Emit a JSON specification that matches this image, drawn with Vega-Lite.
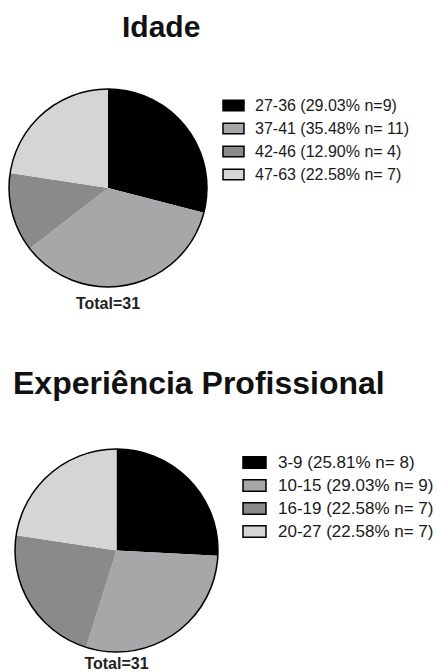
{
  "$schema": "https://vega.github.io/schema/vega-lite/v6.json",
  "background": "white",
  "padding": {"left": 6, "top": 13, "right": 0, "bottom": 0},
  "autosize": {"type": "pad"},
  "config": {
    "view": {"stroke": null},
    "legend": {
      "title": null,
      "labelFont": "Liberation Sans",
      "labelColor": "#1a1a1a",
      "symbolType": "M-1,-0.5H1V0.5H-1Z",
      "symbolStrokeColor": "black",
      "symbolStrokeWidth": 1.5,
      "symbolOpacity": 1
    }
  },
  "datasets": {
    "idade": [
      {"faixa": "27-36", "label": "27-36 (29.03% n=9)", "n": 9, "ordem": 1},
      {"faixa": "37-41", "label": "37-41 (35.48% n= 11)", "n": 11, "ordem": 2},
      {"faixa": "42-46", "label": "42-46 (12.90% n= 4)", "n": 4, "ordem": 3},
      {"faixa": "47-63", "label": "47-63 (22.58% n= 7)", "n": 7, "ordem": 4}
    ],
    "experiencia": [
      {"faixa": "3-9", "label": "3-9 (25.81% n= 8)", "n": 8, "ordem": 1},
      {"faixa": "10-15", "label": "10-15 (29.03% n= 9)", "n": 9, "ordem": 2},
      {"faixa": "16-19", "label": "16-19 (22.58% n= 7)", "n": 7, "ordem": 3},
      {"faixa": "20-27", "label": "20-27 (22.58% n= 7)", "n": 7, "ordem": 4}
    ]
  },
  "spacing": 56,
  "resolve": {"scale": {"color": "independent", "theta": "independent"}},
  "vconcat": [
    {
      "title": {"text": "Idade", "anchor": "start", "dx": 116, "font": "Liberation Sans", "fontWeight": "bold", "fontSize": 30, "color": "#111", "baseline": "alphabetic", "offset": 19},
      "vconcat": [
        {
          "width": 198,
          "height": 198,
          "data": {"name": "idade"},
          "title": {"text": "Total=31", "orient": "bottom", "anchor": "middle", "font": "Liberation Sans", "fontWeight": "bold", "fontSize": 16, "color": "#222", "offset": 6},
          "layer": [
            {
              "mark": {"type": "arc", "radius": 99},
              "encoding": {
                "theta": {"field": "n", "type": "quantitative", "stack": true},
                "order": {"field": "ordem", "type": "quantitative"},
                "color": {
                  "field": "label", "type": "nominal",
                  "scale": {"domain": ["27-36 (29.03% n=9)", "37-41 (35.48% n= 11)", "42-46 (12.90% n= 4)", "47-63 (22.58% n= 7)"], "range": ["#000000", "#a7a7a9", "#8a8a8a", "#d5d5d5"]},
                  "legend": {"labelFontSize": 16, "symbolSize": 441, "rowPadding": 3, "offset": 7, "padding": 5, "labelOffset": 10}
                }
              }
            },
            {
              "transform": [{"aggregate": [{"op": "sum", "field": "n", "as": "n"}]}],
              "mark": {"type": "arc", "radius": 99, "filled": false, "stroke": "black", "strokeWidth": 1.5},
              "encoding": {
                "theta": {"field": "n", "type": "quantitative", "stack": true}
              }
            }
          ]
        }
      ]
    },
    {
      "title": {"text": "Experiência Profissional", "anchor": "start", "dx": 4, "font": "Liberation Sans", "fontWeight": "bold", "fontSize": 32, "color": "#111", "baseline": "alphabetic", "offset": 20},
      "vconcat": [
        {
          "width": 215,
          "height": 203,
          "data": {"name": "experiencia"},
          "title": {"text": "Total=31", "orient": "bottom", "anchor": "middle", "font": "Liberation Sans", "fontWeight": "bold", "fontSize": 16, "color": "#222", "offset": 1},
          "layer": [
            {
              "mark": {"type": "arc", "radius": 101.5},
              "encoding": {
                "theta": {"field": "n", "type": "quantitative", "stack": true},
                "order": {"field": "ordem", "type": "quantitative"},
                "color": {
                  "field": "label", "type": "nominal",
                  "scale": {"domain": ["3-9 (25.81% n= 8)", "10-15 (29.03% n= 9)", "16-19 (22.58% n= 7)", "20-27 (22.58% n= 7)"], "range": ["#000000", "#a7a7a9", "#8a8a8a", "#d5d5d5"]},
                  "legend": {"labelFontSize": 17, "symbolSize": 529, "rowPadding": 1, "offset": 17, "padding": 1, "labelOffset": 11}
                }
              }
            },
            {
              "transform": [{"aggregate": [{"op": "sum", "field": "n", "as": "n"}]}],
              "mark": {"type": "arc", "radius": 101.5, "filled": false, "stroke": "black", "strokeWidth": 1.5},
              "encoding": {
                "theta": {"field": "n", "type": "quantitative", "stack": true}
              }
            }
          ]
        }
      ]
    }
  ]
}
